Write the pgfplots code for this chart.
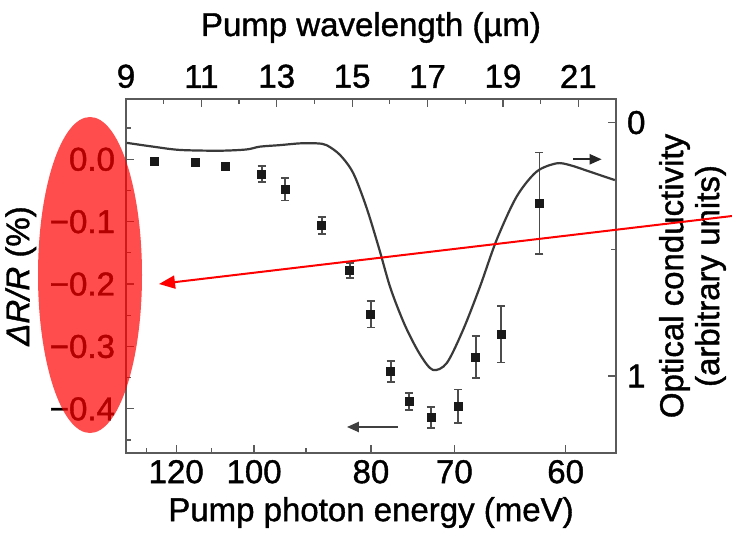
\documentclass[border=0pt]{standalone}
\usepackage{pgfplots}
\pgfplotsset{compat=1.18}
\usepackage{fontspec}
\setmainfont{Liberation Sans}[RawFeature={embolden=1.2}]
\usetikzlibrary{arrows.meta}
\definecolor{axgray}{HTML}{5A5A5A}
\definecolor{curvegray}{HTML}{3A3A3A}
\begin{document}
\begin{tikzpicture}
\useasboundingbox (0,0) rectangle (366pt,268.5pt);
\pgfplotsset{
  common/.style={
    at={(63pt,42pt)}, anchor=south west,
    scale only axis, width=245pt, height=177pt,
    xmin=9, xmax=22,
    axis line style={draw=axgray, line width=0.7pt},
    tick style={axgray, line width=0.6pt},
    major tick length=4pt, minor tick length=2.5pt,
    tick align=inside,
    /pgf/number format/assume math mode=true,
    ticklabel style={font=\fontsize{16.5}{16}\selectfont},
    label style={font=\fontsize{16.5}{18}\selectfont},
  }
}
\begin{axis}[common,
  ymin=-0.4707, ymax=0.0966,
  xtick={10.332,12.398,15.498,17.712,20.664},
  xticklabels={120,100,80,70,60},
  minor xtick={9.538,11.271,13.776},
  xtick pos=left, xticklabel pos=left,
  ytick={-0.4,-0.3,-0.2,-0.1,0},
  yticklabels={−0.4,−0.3,−0.2,−0.1,0.0},
  yticklabel style={xshift=-2pt},
  minor ytick={-0.45,-0.35,-0.25,-0.15,-0.05,0.05},
  ytick pos=left, yticklabel pos=left,
  xlabel={Pump photon energy (meV)},
  ylabel={\textit{ΔR/R} (\%)},
]
\addplot[only marks, mark=square*, mark size=2pt, black!90,
  error bars/.cd, y dir=both, y explicit,
  error bar style={line width=0.9pt, black!70},
  error mark options={rotate=90, mark size=2pt, line width=0.9pt, black!70}]
coordinates {
(9.75,-0.004) +- (0,0.004)
(10.85,-0.005) +- (0,0.004)
(11.65,-0.012) +- (0,0.006)
(12.60,-0.024) +- (0,0.013)
(13.22,-0.048) +- (0,0.018)
(14.19,-0.106) +- (0,0.014)
(14.94,-0.178) +- (0,0.012)
(15.49,-0.248) +- (0,0.0215)
(16.02,-0.340) +- (0,0.017)
(16.51,-0.388) +- (0,0.0136)
(17.09,-0.414) +- (0,0.0165)
(17.81,-0.396) +- (0,0.027)
(18.28,-0.317) +- (0,0.034)
(18.95,-0.280) +- (0,0.0455)
(19.97,-0.0705) +- (0,0.0815)
};
\draw[black!75, line width=1.1pt, -{Triangle[length=6pt,width=5pt]}] (axis cs:16.21,-0.429) -- (axis cs:14.86,-0.429);
\draw[black!85, line width=1.1pt, -{Triangle[length=6pt,width=5pt]}] (axis cs:20.86,0.0) -- (axis cs:21.62,0.0);
\end{axis}
\begin{axis}[common,
  ymin=-0.093, ymax=1.304, y dir=reverse,
  xtick={9,11,13,15,17,19,21},
  minor xtick={10,12,14,16,18,20,22},
  xtick pos=right, xticklabel pos=right,
  xticklabel style={yshift=2pt},
  ytick={0,1}, minor ytick={0.5},
  ytick pos=right, yticklabel pos=right,
  yticklabel style={xshift=2pt},
  xlabel={Pump wavelength (µm)},
  xlabel style={yshift=4pt},
  ylabel={Optical conductivity\\(arbitrary units)},
  ylabel style={align=center},
]
\addplot[smooth, curvegray, line width=1.1pt] coordinates {
(9.02,0.080) (9.72,0.095) (10.43,0.108) (11.49,0.111) (12.20,0.106)
(12.55,0.095) (13.08,0.089) (13.62,0.082) (14.06,0.082) (14.32,0.089)
(14.68,0.128) (15.03,0.200) (15.38,0.335) (15.72,0.50) (16.02,0.655)
(16.40,0.800) (16.80,0.915) (17.14,0.976) (17.51,0.949) (17.94,0.819)
(18.39,0.648) (18.83,0.464) (19.36,0.293) (19.89,0.194)
(20.42,0.161) (20.78,0.168) (21.31,0.194) (21.97,0.227)
};
\end{axis}
\fill[red, fill opacity=0.7] (45pt,131pt) ellipse (26pt and 79pt);
\draw[red, line width=1pt, -{Triangle[length=8pt,width=6.5pt]}] (366pt,160.5pt) -- (79.5pt,126.5pt);
\end{tikzpicture}
\end{document}
